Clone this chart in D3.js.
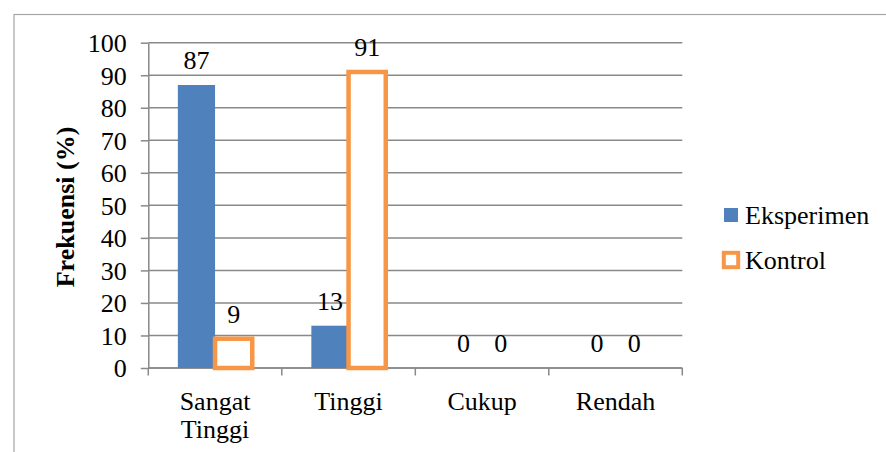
<!DOCTYPE html>
<html>
<head>
<meta charset="utf-8">
<script src="https://cdn.jsdelivr.net/npm/d3@7/dist/d3.min.js"></script>
<style>
  html, body { margin: 0; padding: 0; background: #fff; }
  svg { display: block; }
</style>
</head>
<body>
<svg id="chart" width="886" height="452"></svg>
<script>
// Kategori dan nilai frekuensi (%)
const categories = ["Sangat Tinggi", "Tinggi", "Cukup", "Rendah"];
const seriesNames = ["Eksperimen", "Kontrol"];
const eksperimen = [87, 13, 0, 0];
const kontrol = [9, 91, 0, 0];
const yTicks = [0, 10, 20, 30, 40, 50, 60, 70, 80, 90, 100];
const yTitle = "Frekuensi (%)";

const colors = { Eksperimen: "#4F81BD", Kontrol: "#F79646" };
const gridColor = "#898989";
const serif = "'Liberation Serif', 'Times New Roman', serif";

const svg = d3.select("#chart")
  .attr("font-family", serif);

// Outer chart frame
svg.append("rect")
  .attr("x", 14).attr("y", 14.5)
  .attr("width", 900).attr("height", 500)
  .attr("fill", "none").attr("stroke", "#a6a6a6").attr("stroke-width", 1.2);

const plot = { left: 148.3, right: 682.3, top: 42.7, bottom: 368 };

const x0 = d3.scaleBand().domain(categories).range([plot.left, plot.right]).paddingInner(0).paddingOuter(0);
const x1 = d3.scaleBand().domain(seriesNames).range([0, x0.bandwidth()]).paddingInner(0).paddingOuter(0.794);
const y = d3.scaleLinear().domain([0, 100]).range([plot.bottom, plot.top]);

const rows = categories.map((c, i) => ({
  category: c,
  values: [
    { name: "Eksperimen", value: eksperimen[i] },
    { name: "Kontrol", value: kontrol[i] }
  ]
}));

// Horizontal gridlines
svg.append("g").selectAll("line").data(yTicks).join("line")
  .attr("x1", plot.left).attr("x2", plot.right)
  .attr("y1", d => y(d)).attr("y2", d => y(d))
  .attr("stroke", gridColor).attr("stroke-width", 1.5);

// Y axis
const yAxis = svg.append("g")
  .attr("transform", `translate(${plot.left},0)`)
  .call(d3.axisLeft(y).tickValues(yTicks).tickSizeInner(7.5).tickSizeOuter(0).tickPadding(14));
yAxis.attr("font-family", serif).attr("font-size", 26);
yAxis.select(".domain").attr("stroke", gridColor).attr("stroke-width", 1.5);
yAxis.selectAll(".tick line").attr("stroke", gridColor).attr("stroke-width", 1.5);
yAxis.selectAll(".tick text")
  .attr("font-size", 26).attr("fill", "#000")
  .attr("font-family", serif)
  .attr("dy", "0.34em");

// X axis baseline and category boundary ticks
svg.append("line")
  .attr("x1", plot.left).attr("x2", plot.right)
  .attr("y1", y(0)).attr("y2", y(0))
  .attr("stroke", gridColor).attr("stroke-width", 1.5);
const bounds = categories.map(c => x0(c)).concat([plot.right]);
svg.append("g").selectAll("line").data(bounds).join("line")
  .attr("x1", d => d).attr("x2", d => d)
  .attr("y1", y(0)).attr("y2", y(0) + 7.5)
  .attr("stroke", gridColor).attr("stroke-width", 1.5);

// Bars
const groups = svg.append("g").selectAll("g").data(rows).join("g")
  .attr("transform", d => `translate(${x0(d.category)},0)`);

groups.selectAll("rect").data(d => d.values.filter(v => v.value > 0)).join("rect")
  .attr("x", d => x1(d.name))
  .attr("width", x1.bandwidth())
  .attr("y", d => y(d.value))
  .attr("height", d => y(0) - y(d.value))
  .attr("fill", d => d.name === "Eksperimen" ? colors.Eksperimen : "#fff")
  .attr("stroke", d => d.name === "Kontrol" ? colors.Kontrol : "none")
  .attr("stroke-width", 4.5);

// Data labels
groups.selectAll("text").data(d => d.values).join("text")
  .attr("x", d => x1(d.name) + x1.bandwidth() / 2)
  .attr("y", d => y(d.value) - 16)
  .attr("text-anchor", "middle")
  .attr("font-family", serif)
  .attr("font-size", 26)
  .attr("fill", "#000")
  .text(d => d.value);

// Category labels (wrapped on spaces)
const catLabels = svg.append("g").selectAll("text").data(categories).join("text")
  .attr("x", d => x0(d) + x0.bandwidth() / 2)
  .attr("y", 410)
  .attr("text-anchor", "middle")
  .attr("font-family", serif)
  .attr("font-size", 26)
  .attr("fill", "#000");
catLabels.each(function(d) {
  const words = d.split(" ");
  const t = d3.select(this);
  const cx = x0(d) + x0.bandwidth() / 2;
  words.forEach((w, i) => {
    t.append("tspan").attr("x", cx).attr("dy", i === 0 ? 0 : 28).text(w);
  });
});

// Y axis title
svg.append("text")
  .attr("transform", "translate(74,207) rotate(-90)")
  .attr("text-anchor", "middle")
  .attr("font-family", serif)
  .attr("font-size", 26)
  .attr("font-weight", "bold")
  .attr("fill", "#000")
  .text(yTitle);

// Legend
const legend = svg.append("g");
const legendY = [215, 260];
seriesNames.forEach((name, i) => {
  const cy = legendY[i];
  if (name === "Eksperimen") {
    legend.append("rect")
      .attr("x", 724).attr("y", cy - 7).attr("width", 14).attr("height", 14)
      .attr("fill", colors.Eksperimen);
  } else {
    legend.append("rect")
      .attr("x", 723.8).attr("y", cy - 7.2).attr("width", 14.4).attr("height", 14.4)
      .attr("fill", "#fff").attr("stroke", colors.Kontrol).attr("stroke-width", 4);
  }
  legend.append("text")
    .attr("x", 745).attr("y", cy + 9)
    .attr("font-family", serif)
    .attr("font-size", 26)
    .attr("fill", "#000")
    .text(name);
});
</script>
</body>
</html>
